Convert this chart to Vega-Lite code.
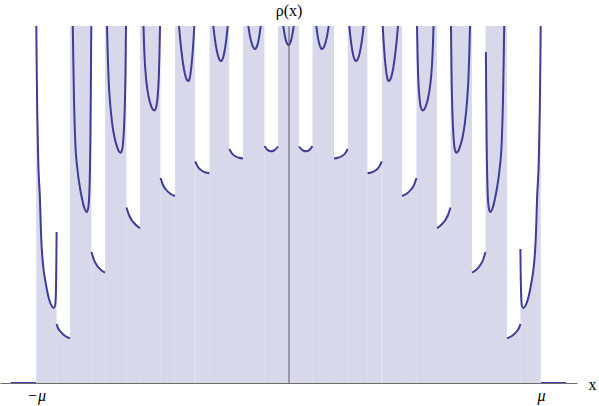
{
"$schema": "https://vega.github.io/schema/vega-lite/v6.json",
"width": 577, "height": 357,
"padding": {"left": 0, "top": 26, "right": 22, "bottom": 23},
"autosize": {"type": "none"},
"background": "white",
"config": {"view": {"stroke": null}, "axis": {"titleFont": "Liberation Serif", "titleFontWeight": "normal", "titleFontSize": 16, "titleColor": "black", "labelFont": "Liberation Serif", "labelFontWeight": "normal", "labelFontSize": 16, "labelColor": "black", "grid": false, "ticks": false}},
"datasets": {
"bands": [
{"band":"B1","x0":-0.8653,"x1":-0.7802},{"band":"B2","x0":-0.7267,"x1":-0.6416},{"band":"B3","x0":-0.5881,"x1":-0.5069},
{"band":"B4","x0":-0.4495,"x1":-0.3703},{"band":"B5","x0":-0.3129,"x1":-0.2345},{"band":"B6","x0":-0.1802,"x1":-0.095},
{"band":"C","x0":-0.0416,"x1":0.0416},
{"band":"B6r","x0":0.095,"x1":0.1802},{"band":"B5r","x0":0.2345,"x1":0.3129},{"band":"B4r","x0":0.3703,"x1":0.4495},
{"band":"B3r","x0":0.5069,"x1":0.5881},{"band":"B2r","x0":0.6416,"x1":0.7267},{"band":"B1r","x0":0.7802,"x1":0.8653}
],
"seams": [
{"x":-0.9184},{"x":-0.8653},{"x":-0.7802},{"x":-0.7267},{"x":-0.6416},{"x":-0.5881},{"x":-0.5069},{"x":-0.4495},{"x":-0.3703},{"x":-0.3129},{"x":-0.2345},{"x":-0.1802},{"x":-0.095},{"x":-0.0416},
{"x":0.0416},{"x":0.095},{"x":0.1802},{"x":0.2345},{"x":0.3129},{"x":0.3703},{"x":0.4495},{"x":0.5069},{"x":0.5881},{"x":0.6416},{"x":0.7267},{"x":0.7802},{"x":0.8653},{"x":0.9184}
],
"curve": [
{"piece":"Z0","kind":"outside","x":-1.1,"rho":0},{"piece":"Z0","kind":"outside","x":-1.0,"rho":0},
{"piece":"L0","kind":"edge","x":-0.9992,"rho":3.68},{"piece":"L0","kind":"edge","x":-0.9976,"rho":3.23},{"piece":"L0","kind":"edge","x":-0.9952,"rho":2.73},{"piece":"L0","kind":"edge","x":-0.9913,"rho":2.23},{"piece":"L0","kind":"edge","x":-0.9842,"rho":1.83},{"piece":"L0","kind":"edge","x":-0.9802,"rho":1.5},{"piece":"L0","kind":"edge","x":-0.9711,"rho":1.16},{"piece":"L0","kind":"edge","x":-0.9616,"rho":1.0},{"piece":"L0","kind":"edge","x":-0.9473,"rho":0.83},{"piece":"L0","kind":"edge","x":-0.9386,"rho":0.775},{"piece":"L0","kind":"edge","x":-0.9307,"rho":0.75},{"piece":"L0","kind":"edge","x":-0.9248,"rho":0.77},{"piece":"L0","kind":"edge","x":-0.9216,"rho":0.87},{"piece":"L0","kind":"edge","x":-0.9196,"rho":1.18},{"piece":"L0","kind":"edge","x":-0.9184,"rho":1.51},
{"piece":"G0","kind":"gap","x":-0.9184,"rho":0.59},{"piece":"G0","kind":"gap","x":-0.9129,"rho":0.55},{"piece":"G0","kind":"gap","x":-0.905,"rho":0.52},{"piece":"G0","kind":"gap","x":-0.8931,"rho":0.488},{"piece":"G0","kind":"gap","x":-0.8812,"rho":0.465},{"piece":"G0","kind":"gap","x":-0.8653,"rho":0.447},
{"piece":"B1","kind":"band","x":-0.8554,"rho":3.68},{"piece":"B1","kind":"band","x":-0.8543,"rho":3.57},{"piece":"B1","kind":"band","x":-0.8523,"rho":3.23},{"piece":"B1","kind":"band","x":-0.8495,"rho":2.83},{"piece":"B1","kind":"band","x":-0.8448,"rho":2.43},{"piece":"B1","kind":"band","x":-0.8356,"rho":2.13},{"piece":"B1","kind":"band","x":-0.8257,"rho":1.95},{"piece":"B1","kind":"band","x":-0.8166,"rho":1.83},{"piece":"B1","kind":"band","x":-0.8079,"rho":1.745},{"piece":"B1","kind":"band","x":-0.7992,"rho":1.71},{"piece":"B1","kind":"band","x":-0.7933,"rho":1.75},{"piece":"B1","kind":"band","x":-0.7893,"rho":1.87},{"piece":"B1","kind":"band","x":-0.7865,"rho":2.11},{"piece":"B1","kind":"band","x":-0.7846,"rho":2.43},{"piece":"B1","kind":"band","x":-0.783,"rho":2.88},{"piece":"B1","kind":"band","x":-0.7818,"rho":3.33},{"piece":"B1","kind":"band","x":-0.781,"rho":3.57},{"piece":"B1","kind":"band","x":-0.7804,"rho":3.68},
{"piece":"G1","kind":"gap","x":-0.7802,"rho":1.31},{"piece":"G1","kind":"gap","x":-0.7703,"rho":1.23},{"piece":"G1","kind":"gap","x":-0.7584,"rho":1.175},{"piece":"G1","kind":"gap","x":-0.7426,"rho":1.13},{"piece":"G1","kind":"gap","x":-0.7267,"rho":1.103},
{"piece":"B2","kind":"band","x":-0.72,"rho":3.68},{"piece":"B2","kind":"band","x":-0.7188,"rho":3.57},{"piece":"B2","kind":"band","x":-0.716,"rho":3.291},{"piece":"B2","kind":"band","x":-0.7125,"rho":3.038},{"piece":"B2","kind":"band","x":-0.7069,"rho":2.81},{"piece":"B2","kind":"band","x":-0.6982,"rho":2.594},{"piece":"B2","kind":"band","x":-0.6891,"rho":2.455},{"piece":"B2","kind":"band","x":-0.6796,"rho":2.366},{"piece":"B2","kind":"band","x":-0.6717,"rho":2.316},{"piece":"B2","kind":"band","x":-0.6646,"rho":2.303},{"piece":"B2","kind":"band","x":-0.6582,"rho":2.341},{"piece":"B2","kind":"band","x":-0.6541,"rho":2.442},{"piece":"B2","kind":"band","x":-0.6505,"rho":2.607},{"piece":"B2","kind":"band","x":-0.6477,"rho":2.835},{"piece":"B2","kind":"band","x":-0.6455,"rho":3.114},{"piece":"B2","kind":"band","x":-0.6436,"rho":3.57},{"piece":"B2","kind":"band","x":-0.643,"rho":3.68},
{"piece":"G2","kind":"gap","x":-0.6416,"rho":1.755},{"piece":"G2","kind":"gap","x":-0.6317,"rho":1.68},{"piece":"G2","kind":"gap","x":-0.6198,"rho":1.625},{"piece":"G2","kind":"gap","x":-0.604,"rho":1.58},{"piece":"G2","kind":"gap","x":-0.5881,"rho":1.547},
{"piece":"B3","kind":"band","x":-0.5754,"rho":3.68},{"piece":"B3","kind":"band","x":-0.5743,"rho":3.57},{"piece":"B3","kind":"band","x":-0.5721,"rho":3.384},{"piece":"B3","kind":"band","x":-0.5691,"rho":3.215},{"piece":"B3","kind":"band","x":-0.5648,"rho":3.063},{"piece":"B3","kind":"band","x":-0.558,"rho":2.919},{"piece":"B3","kind":"band","x":-0.5507,"rho":2.826},{"piece":"B3","kind":"band","x":-0.5434,"rho":2.767},{"piece":"B3","kind":"band","x":-0.537,"rho":2.733},{"piece":"B3","kind":"band","x":-0.5315,"rho":2.725},{"piece":"B3","kind":"band","x":-0.5248,"rho":2.75},{"piece":"B3","kind":"band","x":-0.5202,"rho":2.818},{"piece":"B3","kind":"band","x":-0.5164,"rho":2.928},{"piece":"B3","kind":"band","x":-0.5133,"rho":3.08},{"piece":"B3","kind":"band","x":-0.5113,"rho":3.266},{"piece":"B3","kind":"band","x":-0.5089,"rho":3.57},{"piece":"B3","kind":"band","x":-0.5081,"rho":3.68},
{"piece":"G3","kind":"gap","x":-0.5069,"rho":2.05},{"piece":"G3","kind":"gap","x":-0.497,"rho":1.98},{"piece":"G3","kind":"gap","x":-0.4851,"rho":1.935},{"piece":"G3","kind":"gap","x":-0.4693,"rho":1.895},{"piece":"G3","kind":"gap","x":-0.4495,"rho":1.87},
{"piece":"B4","kind":"band","x":-0.4372,"rho":3.68},{"piece":"B4","kind":"band","x":-0.4337,"rho":3.57},{"piece":"B4","kind":"band","x":-0.43,"rho":3.465},{"piece":"B4","kind":"band","x":-0.4244,"rho":3.328},{"piece":"B4","kind":"band","x":-0.4171,"rho":3.185},{"piece":"B4","kind":"band","x":-0.4097,"rho":3.086},{"piece":"B4","kind":"band","x":-0.4024,"rho":3.031},{"piece":"B4","kind":"band","x":-0.3968,"rho":3.02},{"piece":"B4","kind":"band","x":-0.3933,"rho":3.032},{"piece":"B4","kind":"band","x":-0.3885,"rho":3.087},{"piece":"B4","kind":"band","x":-0.3838,"rho":3.185},{"piece":"B4","kind":"band","x":-0.379,"rho":3.328},{"piece":"B4","kind":"band","x":-0.3754,"rho":3.465},{"piece":"B4","kind":"band","x":-0.3731,"rho":3.57},{"piece":"B4","kind":"band","x":-0.3707,"rho":3.68},
{"piece":"G4","kind":"gap","x":-0.3695,"rho":2.215},{"piece":"G4","kind":"gap","x":-0.3584,"rho":2.16},{"piece":"G4","kind":"gap","x":-0.3465,"rho":2.13},{"piece":"G4","kind":"gap","x":-0.3307,"rho":2.107},{"piece":"G4","kind":"gap","x":-0.3129,"rho":2.097},
{"piece":"B5","kind":"band","x":-0.301,"rho":3.644},{"piece":"B5","kind":"band","x":-0.2978,"rho":3.57},{"piece":"B5","kind":"band","x":-0.2948,"rho":3.5035},{"piece":"B5","kind":"band","x":-0.2902,"rho":3.416},{"piece":"B5","kind":"band","x":-0.2841,"rho":3.325},{"piece":"B5","kind":"band","x":-0.278,"rho":3.262},{"piece":"B5","kind":"band","x":-0.2719,"rho":3.227},{"piece":"B5","kind":"band","x":-0.2673,"rho":3.22},{"piece":"B5","kind":"band","x":-0.2634,"rho":3.228},{"piece":"B5","kind":"band","x":-0.258,"rho":3.263},{"piece":"B5","kind":"band","x":-0.2527,"rho":3.325},{"piece":"B5","kind":"band","x":-0.2474,"rho":3.416},{"piece":"B5","kind":"band","x":-0.2434,"rho":3.5035},{"piece":"B5","kind":"band","x":-0.2408,"rho":3.57},{"piece":"B5","kind":"band","x":-0.238,"rho":3.644},
{"piece":"G5","kind":"gap","x":-0.2345,"rho":2.34},{"piece":"G5","kind":"gap","x":-0.2238,"rho":2.295},{"piece":"G5","kind":"gap","x":-0.2119,"rho":2.27},{"piece":"G5","kind":"gap","x":-0.196,"rho":2.252},{"piece":"G5","kind":"gap","x":-0.1802,"rho":2.245},
{"piece":"B6","kind":"band","x":-0.1644,"rho":3.67},{"piece":"B6","kind":"band","x":-0.1592,"rho":3.57},{"piece":"B6","kind":"band","x":-0.1566,"rho":3.526},{"piece":"B6","kind":"band","x":-0.1526,"rho":3.469},{"piece":"B6","kind":"band","x":-0.1472,"rho":3.409},{"piece":"B6","kind":"band","x":-0.1419,"rho":3.368},{"piece":"B6","kind":"band","x":-0.1367,"rho":3.345},{"piece":"B6","kind":"band","x":-0.1327,"rho":3.34},{"piece":"B6","kind":"band","x":-0.1293,"rho":3.345},{"piece":"B6","kind":"band","x":-0.1248,"rho":3.368},{"piece":"B6","kind":"band","x":-0.1202,"rho":3.409},{"piece":"B6","kind":"band","x":-0.1157,"rho":3.469},{"piece":"B6","kind":"band","x":-0.1124,"rho":3.526},{"piece":"B6","kind":"band","x":-0.1101,"rho":3.57},{"piece":"B6","kind":"band","x":-0.1055,"rho":3.67},
{"piece":"G6","kind":"gap","x":-0.095,"rho":2.37},{"piece":"G6","kind":"gap","x":-0.0851,"rho":2.335},{"piece":"G6","kind":"gap","x":-0.0713,"rho":2.317},{"piece":"G6","kind":"gap","x":-0.0574,"rho":2.325},{"piece":"G6","kind":"gap","x":-0.0416,"rho":2.365},
{"piece":"C","kind":"band","x":-0.0247,"rho":3.654},{"piece":"C","kind":"band","x":-0.0206,"rho":3.57},{"piece":"C","kind":"band","x":-0.0165,"rho":3.502},{"piece":"C","kind":"band","x":-0.0124,"rho":3.448},{"piece":"C","kind":"band","x":-0.0082,"rho":3.41},{"piece":"C","kind":"band","x":-0.0041,"rho":3.388},{"piece":"C","kind":"band","x":0,"rho":3.38},{"piece":"C","kind":"band","x":0.0041,"rho":3.388},{"piece":"C","kind":"band","x":0.0082,"rho":3.41},{"piece":"C","kind":"band","x":0.0124,"rho":3.448},{"piece":"C","kind":"band","x":0.0165,"rho":3.502},{"piece":"C","kind":"band","x":0.0206,"rho":3.57},{"piece":"C","kind":"band","x":0.0247,"rho":3.654},
{"piece":"G6r","kind":"gap","x":0.0416,"rho":2.365},{"piece":"G6r","kind":"gap","x":0.0574,"rho":2.325},{"piece":"G6r","kind":"gap","x":0.0713,"rho":2.317},{"piece":"G6r","kind":"gap","x":0.0851,"rho":2.335},{"piece":"G6r","kind":"gap","x":0.095,"rho":2.37},
{"piece":"B6r","kind":"band","x":0.1055,"rho":3.67},{"piece":"B6r","kind":"band","x":0.1101,"rho":3.57},{"piece":"B6r","kind":"band","x":0.1124,"rho":3.526},{"piece":"B6r","kind":"band","x":0.1157,"rho":3.469},{"piece":"B6r","kind":"band","x":0.1202,"rho":3.409},{"piece":"B6r","kind":"band","x":0.1248,"rho":3.368},{"piece":"B6r","kind":"band","x":0.1293,"rho":3.345},{"piece":"B6r","kind":"band","x":0.1327,"rho":3.34},{"piece":"B6r","kind":"band","x":0.1367,"rho":3.345},{"piece":"B6r","kind":"band","x":0.1419,"rho":3.368},{"piece":"B6r","kind":"band","x":0.1472,"rho":3.409},{"piece":"B6r","kind":"band","x":0.1526,"rho":3.469},{"piece":"B6r","kind":"band","x":0.1566,"rho":3.526},{"piece":"B6r","kind":"band","x":0.1592,"rho":3.57},{"piece":"B6r","kind":"band","x":0.1644,"rho":3.67},
{"piece":"G5r","kind":"gap","x":0.1802,"rho":2.245},{"piece":"G5r","kind":"gap","x":0.196,"rho":2.252},{"piece":"G5r","kind":"gap","x":0.2119,"rho":2.27},{"piece":"G5r","kind":"gap","x":0.2238,"rho":2.295},{"piece":"G5r","kind":"gap","x":0.2345,"rho":2.34},
{"piece":"B5r","kind":"band","x":0.238,"rho":3.644},{"piece":"B5r","kind":"band","x":0.2408,"rho":3.57},{"piece":"B5r","kind":"band","x":0.2434,"rho":3.5035},{"piece":"B5r","kind":"band","x":0.2474,"rho":3.416},{"piece":"B5r","kind":"band","x":0.2527,"rho":3.325},{"piece":"B5r","kind":"band","x":0.258,"rho":3.263},{"piece":"B5r","kind":"band","x":0.2634,"rho":3.228},{"piece":"B5r","kind":"band","x":0.2673,"rho":3.22},{"piece":"B5r","kind":"band","x":0.2719,"rho":3.227},{"piece":"B5r","kind":"band","x":0.278,"rho":3.262},{"piece":"B5r","kind":"band","x":0.2841,"rho":3.325},{"piece":"B5r","kind":"band","x":0.2902,"rho":3.416},{"piece":"B5r","kind":"band","x":0.2948,"rho":3.5035},{"piece":"B5r","kind":"band","x":0.2978,"rho":3.57},{"piece":"B5r","kind":"band","x":0.301,"rho":3.644},
{"piece":"G4r","kind":"gap","x":0.3129,"rho":2.097},{"piece":"G4r","kind":"gap","x":0.3307,"rho":2.107},{"piece":"G4r","kind":"gap","x":0.3465,"rho":2.13},{"piece":"G4r","kind":"gap","x":0.3584,"rho":2.16},{"piece":"G4r","kind":"gap","x":0.3695,"rho":2.215},
{"piece":"B4r","kind":"band","x":0.3707,"rho":3.68},{"piece":"B4r","kind":"band","x":0.3731,"rho":3.57},{"piece":"B4r","kind":"band","x":0.3754,"rho":3.465},{"piece":"B4r","kind":"band","x":0.379,"rho":3.328},{"piece":"B4r","kind":"band","x":0.3838,"rho":3.185},{"piece":"B4r","kind":"band","x":0.3885,"rho":3.087},{"piece":"B4r","kind":"band","x":0.3933,"rho":3.032},{"piece":"B4r","kind":"band","x":0.3968,"rho":3.02},{"piece":"B4r","kind":"band","x":0.4024,"rho":3.031},{"piece":"B4r","kind":"band","x":0.4097,"rho":3.086},{"piece":"B4r","kind":"band","x":0.4171,"rho":3.185},{"piece":"B4r","kind":"band","x":0.4244,"rho":3.328},{"piece":"B4r","kind":"band","x":0.43,"rho":3.465},{"piece":"B4r","kind":"band","x":0.4337,"rho":3.57},{"piece":"B4r","kind":"band","x":0.4372,"rho":3.68},
{"piece":"G3r","kind":"gap","x":0.4495,"rho":1.87},{"piece":"G3r","kind":"gap","x":0.4693,"rho":1.895},{"piece":"G3r","kind":"gap","x":0.4851,"rho":1.935},{"piece":"G3r","kind":"gap","x":0.497,"rho":1.98},{"piece":"G3r","kind":"gap","x":0.5069,"rho":2.05},
{"piece":"B3r","kind":"band","x":0.5081,"rho":3.68},{"piece":"B3r","kind":"band","x":0.5089,"rho":3.57},{"piece":"B3r","kind":"band","x":0.5113,"rho":3.266},{"piece":"B3r","kind":"band","x":0.5133,"rho":3.08},{"piece":"B3r","kind":"band","x":0.5164,"rho":2.928},{"piece":"B3r","kind":"band","x":0.5202,"rho":2.818},{"piece":"B3r","kind":"band","x":0.5248,"rho":2.75},{"piece":"B3r","kind":"band","x":0.5315,"rho":2.725},{"piece":"B3r","kind":"band","x":0.537,"rho":2.733},{"piece":"B3r","kind":"band","x":0.5434,"rho":2.767},{"piece":"B3r","kind":"band","x":0.5507,"rho":2.826},{"piece":"B3r","kind":"band","x":0.558,"rho":2.919},{"piece":"B3r","kind":"band","x":0.5648,"rho":3.063},{"piece":"B3r","kind":"band","x":0.5691,"rho":3.215},{"piece":"B3r","kind":"band","x":0.5721,"rho":3.384},{"piece":"B3r","kind":"band","x":0.5743,"rho":3.57},{"piece":"B3r","kind":"band","x":0.5754,"rho":3.68},
{"piece":"G2r","kind":"gap","x":0.5881,"rho":1.547},{"piece":"G2r","kind":"gap","x":0.604,"rho":1.58},{"piece":"G2r","kind":"gap","x":0.6198,"rho":1.625},{"piece":"G2r","kind":"gap","x":0.6317,"rho":1.68},{"piece":"G2r","kind":"gap","x":0.6416,"rho":1.755},
{"piece":"B2r","kind":"band","x":0.643,"rho":3.68},{"piece":"B2r","kind":"band","x":0.6436,"rho":3.57},{"piece":"B2r","kind":"band","x":0.6455,"rho":3.114},{"piece":"B2r","kind":"band","x":0.6477,"rho":2.835},{"piece":"B2r","kind":"band","x":0.6505,"rho":2.607},{"piece":"B2r","kind":"band","x":0.6541,"rho":2.442},{"piece":"B2r","kind":"band","x":0.6582,"rho":2.341},{"piece":"B2r","kind":"band","x":0.6646,"rho":2.303},{"piece":"B2r","kind":"band","x":0.6717,"rho":2.316},{"piece":"B2r","kind":"band","x":0.6796,"rho":2.366},{"piece":"B2r","kind":"band","x":0.6891,"rho":2.455},{"piece":"B2r","kind":"band","x":0.6982,"rho":2.594},{"piece":"B2r","kind":"band","x":0.7069,"rho":2.81},{"piece":"B2r","kind":"band","x":0.7125,"rho":3.038},{"piece":"B2r","kind":"band","x":0.716,"rho":3.291},{"piece":"B2r","kind":"band","x":0.7188,"rho":3.57},{"piece":"B2r","kind":"band","x":0.72,"rho":3.68},
{"piece":"G1r","kind":"gap","x":0.7267,"rho":1.103},{"piece":"G1r","kind":"gap","x":0.7426,"rho":1.13},{"piece":"G1r","kind":"gap","x":0.7584,"rho":1.175},{"piece":"G1r","kind":"gap","x":0.7703,"rho":1.23},{"piece":"G1r","kind":"gap","x":0.7802,"rho":1.31},
{"piece":"B1r","kind":"band","x":0.7818,"rho":3.31},{"piece":"B1r","kind":"band","x":0.783,"rho":2.88},{"piece":"B1r","kind":"band","x":0.7846,"rho":2.43},{"piece":"B1r","kind":"band","x":0.7865,"rho":2.11},{"piece":"B1r","kind":"band","x":0.7893,"rho":1.87},{"piece":"B1r","kind":"band","x":0.7933,"rho":1.75},{"piece":"B1r","kind":"band","x":0.7992,"rho":1.71},{"piece":"B1r","kind":"band","x":0.8079,"rho":1.745},{"piece":"B1r","kind":"band","x":0.8166,"rho":1.83},{"piece":"B1r","kind":"band","x":0.8257,"rho":1.95},{"piece":"B1r","kind":"band","x":0.8356,"rho":2.13},{"piece":"B1r","kind":"band","x":0.8448,"rho":2.43},{"piece":"B1r","kind":"band","x":0.8495,"rho":2.83},{"piece":"B1r","kind":"band","x":0.8523,"rho":3.23},{"piece":"B1r","kind":"band","x":0.8543,"rho":3.57},{"piece":"B1r","kind":"band","x":0.8554,"rho":3.68},
{"piece":"G0r","kind":"gap","x":0.8653,"rho":0.447},{"piece":"G0r","kind":"gap","x":0.8812,"rho":0.465},{"piece":"G0r","kind":"gap","x":0.8931,"rho":0.488},{"piece":"G0r","kind":"gap","x":0.905,"rho":0.52},{"piece":"G0r","kind":"gap","x":0.9129,"rho":0.55},{"piece":"G0r","kind":"gap","x":0.9184,"rho":0.59},
{"piece":"R0","kind":"edge","x":0.9184,"rho":1.34},{"piece":"R0","kind":"edge","x":0.9196,"rho":1.1},{"piece":"R0","kind":"edge","x":0.9216,"rho":0.87},{"piece":"R0","kind":"edge","x":0.9248,"rho":0.77},{"piece":"R0","kind":"edge","x":0.9307,"rho":0.75},{"piece":"R0","kind":"edge","x":0.9386,"rho":0.775},{"piece":"R0","kind":"edge","x":0.9473,"rho":0.83},{"piece":"R0","kind":"edge","x":0.9616,"rho":1.0},{"piece":"R0","kind":"edge","x":0.9711,"rho":1.16},{"piece":"R0","kind":"edge","x":0.9802,"rho":1.5},{"piece":"R0","kind":"edge","x":0.9842,"rho":1.83},{"piece":"R0","kind":"edge","x":0.9913,"rho":2.23},{"piece":"R0","kind":"edge","x":0.9952,"rho":2.73},{"piece":"R0","kind":"edge","x":0.9976,"rho":3.23},{"piece":"R0","kind":"edge","x":0.9992,"rho":3.68},
{"piece":"Z1","kind":"outside","x":1.0,"rho":0},{"piece":"Z1","kind":"outside","x":1.1,"rho":0}
]
},
"layer": [
{
"data": {"name": "bands"},
"mark": {"type": "rect", "fill": "#3d3d99", "fillOpacity": 0.2},
"encoding": {
"x": {"field": "x0", "type": "quantitative", "title": "x", "scale": {"domain": [-1.1426, 1.1426], "nice": false, "zero": false}},
"x2": {"field": "x1"},
"y": {"datum": 3.57, "type": "quantitative", "title": "ρ(x)", "scale": {"domain": [0, 3.57], "nice": false}},
"y2": {"datum": 0}
}
},
{
"data": {"name": "curve"},
"transform": [{"filter": {"field": "kind", "oneOf": ["edge", "gap"]}}],
"mark": {"type": "area", "fill": "#3d3d99", "fillOpacity": 0.2, "interpolate": "monotone", "clip": true},
"encoding": {
"x": {"field": "x", "type": "quantitative", "title": "x", "scale": {"domain": [-1.1426, 1.1426], "nice": false, "zero": false}},
"y": {"field": "rho", "type": "quantitative", "title": "ρ(x)", "stack": null, "scale": {"domain": [0, 3.57], "nice": false}},
"detail": {"field": "piece"}
}
},
{
"data": {"name": "seams"},
"mark": {"type": "rule", "stroke": "white", "strokeOpacity": 0.13, "strokeWidth": 1},
"encoding": {
"x": {"field": "x", "type": "quantitative", "title": "x", "scale": {"domain": [-1.1426, 1.1426], "nice": false, "zero": false}}
}
},
{
"data": {"name": "curve"},
"mark": {"type": "line", "stroke": "#3d3d99", "strokeWidth": 2, "interpolate": "monotone", "clip": true},
"encoding": {
"x": {"field": "x", "type": "quantitative", "title": "x", "scale": {"domain": [-1.1426, 1.1426], "nice": false, "zero": false},
"axis": {"orient": "bottom", "values": [-1, 1], "labelExpr": "datum.value < 0 ? '−μ' : 'μ'", "ticks": false, "grid": false, "domainColor": "#6e6e6e", "domainWidth": 1, "labelFontStyle": "italic", "labelPadding": 17, "labelBaseline": "alphabetic", "titleX": 592, "titleY": 1, "titleAlign": "center", "titleBaseline": "middle", "zindex": 1}},
"y": {"field": "rho", "type": "quantitative", "title": "ρ(x)", "scale": {"domain": [0, 3.57], "nice": false},
"axis": {"orient": "left", "offset": -288.5, "ticks": false, "labels": false, "grid": false, "domainColor": "#5a5a5a", "domainWidth": 1, "titleAngle": 0, "titleX": 0, "titleY": -15.5, "titleAlign": "center", "titleBaseline": "middle", "zindex": 1}},
"detail": {"field": "piece"}
}
}
]
}
